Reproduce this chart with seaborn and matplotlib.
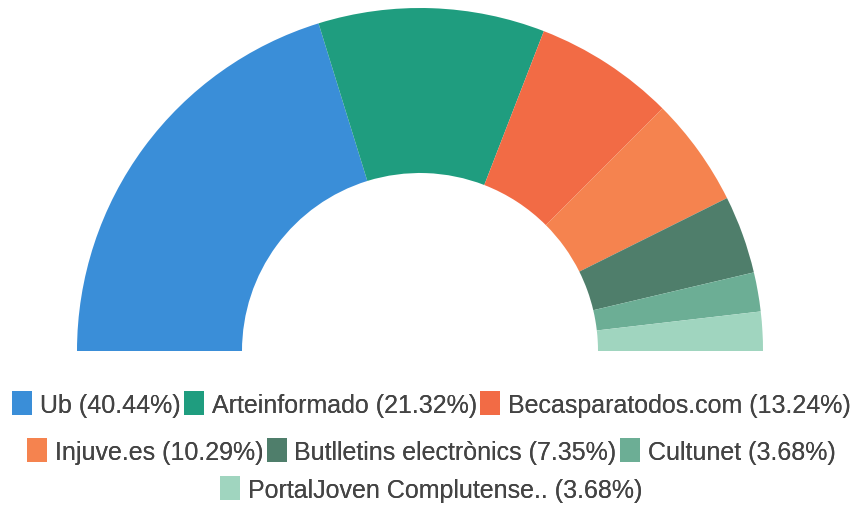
import seaborn as sns
import matplotlib.pyplot as plt
from matplotlib.patches import Patch

sns.set_theme(style="white")
plt.rcParams['font.family'] = ['Liberation Sans', 'DejaVu Sans']

# dades del gràfic
fonts = ["Ub", "Arteinformado", "Becasparatodos.com", "Injuve.es",
         "Butlletins electrònics", "Cultunet", "PortalJoven Complutense.."]
percentatges = [40.44, 21.32, 13.24, 10.29, 7.35, 3.68, 3.68]
colors = ["#3a8ed8", "#1f9d7f", "#f26b45", "#f5834f", "#4f7e6b", "#6cae95", "#a0d5bf"]

fig = plt.figure(figsize=(8.68, 5.06), dpi=100)
ax = fig.add_axes([0, 0, 1, 1])

# mig donut: s'afegeix una meitat invisible
valors = percentatges + [sum(percentatges)]
ax.pie(valors, colors=colors + ["none"], startangle=180,
       counterclock=False, radius=343, center=(420, 154),
       wedgeprops=dict(width=165, linewidth=0), frame=True)
ax.set_xlim(0, 868)
ax.set_ylim(0, 506)
ax.axis("off")

etiquetes = [f"{n} ({p:.2f}%)" for n, p in zip(fonts, percentatges)]
handles = [Patch(facecolor=c, edgecolor="none") for c in colors]

files = [(0, 3, 0.200), (3, 6, 0.107), (6, 7, 0.032)]
for ini, fi, y in files:
    leg = fig.legend(handles[ini:fi], etiquetes[ini:fi], loc="center",
                     bbox_to_anchor=(0.497, y), ncol=fi - ini, frameon=False,
                     fontsize=18, handlelength=0.8, handleheight=1.1,
                     handletextpad=0.3, columnspacing=0.15, borderpad=0,
                     labelcolor="#444444")
    fig.add_artist(leg)

fig.savefig("out.png", dpi=100, facecolor="white")
